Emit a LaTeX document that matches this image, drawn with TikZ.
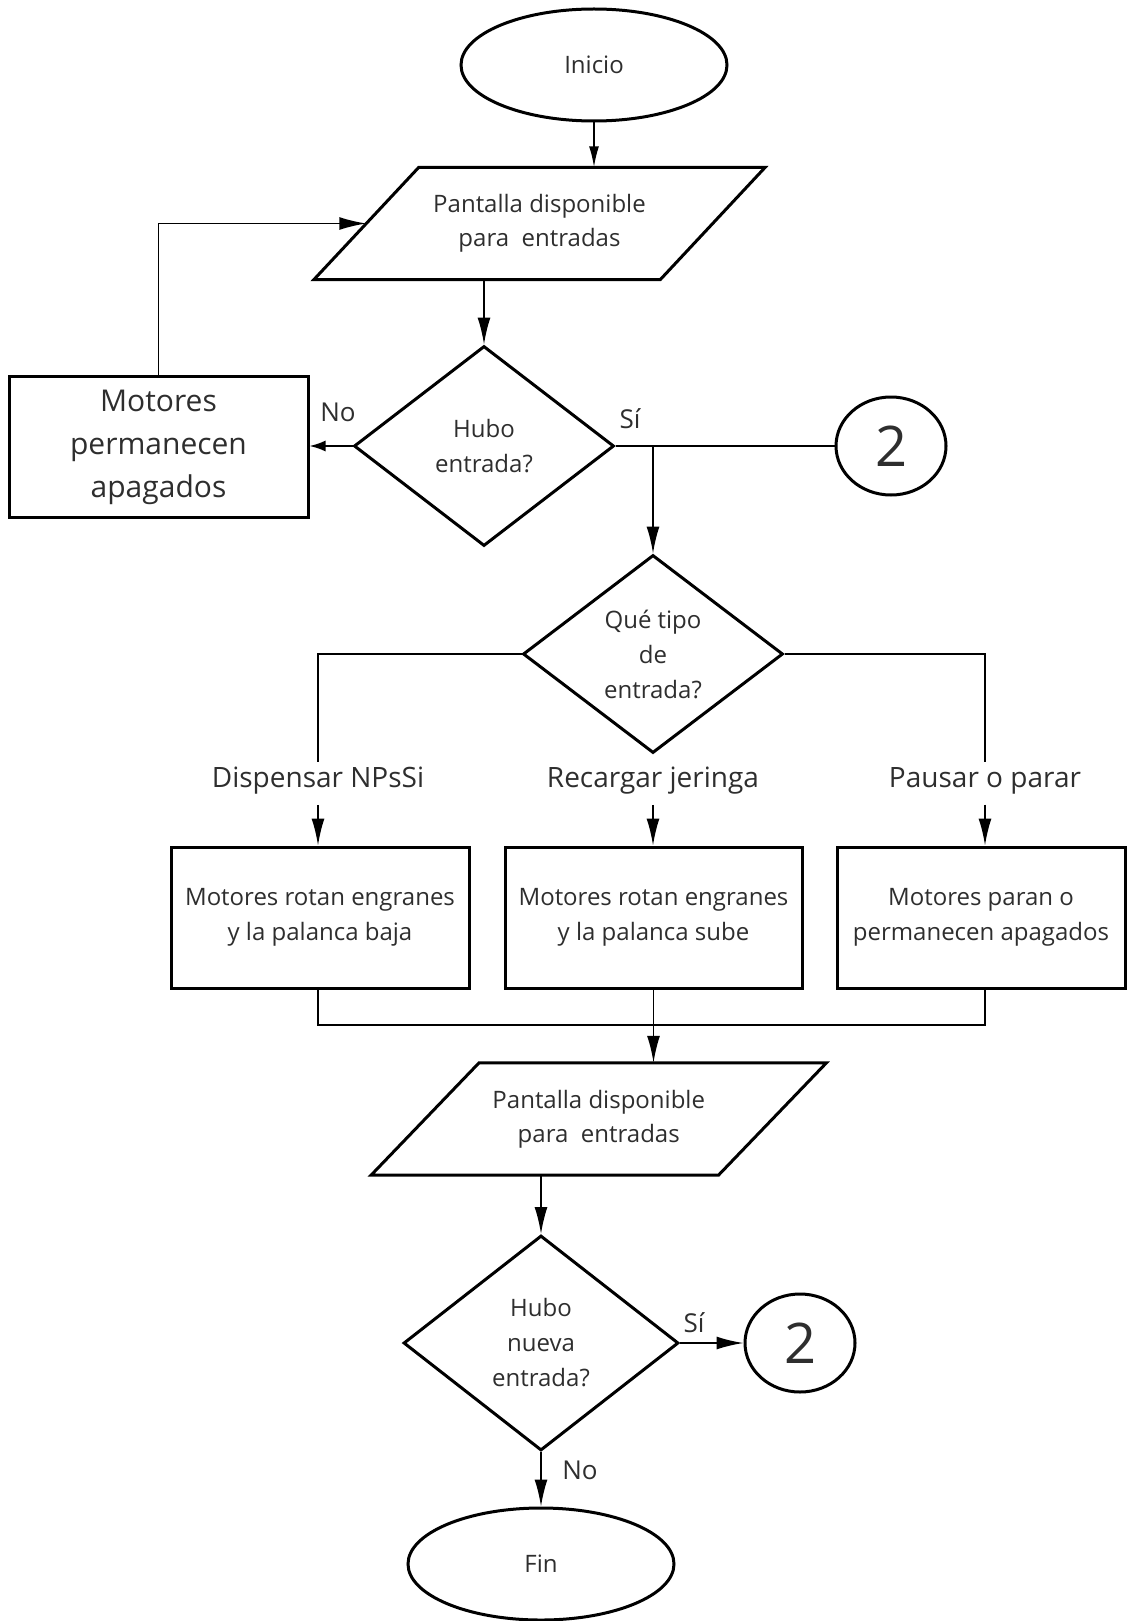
\documentclass[tikz,border=0pt]{standalone}
\usepackage{fontspec}
\setmainfont{Open Sans}
\usetikzlibrary{shapes.geometric,arrows.meta,calc}
\definecolor{txt}{HTML}{2E2E2E}
\begin{document}
\begin{tikzpicture}[x=1pt,y=-1pt,
  shp/.style={draw=black, line width=3pt, text=txt, align=center, inner sep=0pt},
  frame/.style={draw=black, line width=3pt, line join=miter},
  term/.style={shp, ellipse, minimum width=266pt, minimum height=112pt, font=\fontsize{24}{34}\selectfont},
  io/.style={text=txt, align=center, rectangle, inner sep=0pt, minimum width=346pt, minimum height=112pt, font=\fontsize{24}{34}\selectfont},
  dec/.style={shp, diamond, aspect=1.3, font=\fontsize{24}{35}\selectfont},
  proc/.style={shp, rectangle, minimum height=141pt, font=\fontsize{24}{35}\selectfont},
  conn/.style={shp, ellipse, minimum width=110pt, minimum height=98pt, font=\fontsize{56}{60}\selectfont},
  lbl/.style={text=txt, font=\fontsize{28}{34}\selectfont, inner sep=0pt},
  yn/.style={text=txt, font=\fontsize{26}{30}\selectfont, inner sep=0pt},
  ln/.style={line width=1.8pt},
  arr/.style={line width=1.8pt, -{Latex[length=27pt,width=13pt]}},
  arrs/.style={line width=1.8pt, -{Latex[length=21pt,width=10pt]}}
]
\useasboundingbox (0,0) rectangle (1127,1621);

% nodes
\node[term] (inicio) at (594,65) {Inicio};
\node[io] (p1) at (539.5,223.5) {Pantalla disponible\\para\ \ entradas};
\draw[frame] ([xshift=-52.5pt]p1.south west) -- ([xshift=-52.5pt]p1.south east) -- ([xshift=52.5pt]p1.north east) -- ([xshift=52.5pt]p1.north west) -- cycle;
\node[dec, minimum width=260pt, minimum height=200pt] (d1) at (484,446) {Hubo\\entrada?};
\node[proc, minimum width=299pt, font=\fontsize{30}{43}\selectfont] (m1) at (158.5,447) {Motores\\permanecen\\apagados};
\node[conn] (c1) at (891,446) {2};
\node[dec, minimum width=260pt, minimum height=198pt] (d2) at (653,654) {Qué tipo\\de\\entrada?};

\node[lbl] (l1) at (318,781) {Dispensar NPsSi};
\node[lbl] (l2) at (653,781) {Recargar jeringa};
\node[lbl] (l3) at (985,781) {Pausar o parar};

\node[proc, minimum width=298pt] (b1) at (320,917.5) {Motores rotan engranes\\y la palanca baja};
\node[proc, minimum width=297pt] (b2) at (653.5,917.5) {Motores rotan engranes\\y la palanca sube};
\node[proc, minimum width=288pt] (b3) at (981,917.5) {Motores paran o\\permanecen apagados};

\coordinate (mg) at (653,1025);

\node[io, minimum width=347pt] (p2) at (598.75,1119) {Pantalla disponible\\para\ \ entradas};
\draw[frame] ([xshift=-54pt]p2.south west) -- ([xshift=-54pt]p2.south east) -- ([xshift=54pt]p2.north east) -- ([xshift=54pt]p2.north west) -- cycle;
\node[dec, minimum width=275pt, minimum height=215pt] (d3) at (541,1343) {Hubo\\nueva\\entrada?};
\node[conn] (c2) at (800,1343) {2};
\node[term] (fin) at (541,1564) {Fin};

% labels
\node[yn] (no1) at (338,412) {No};
\node[yn] (si1) at (630,419) {Sí};
\node[yn] (si2) at (694,1323) {Sí};
\node[yn] (no2) at (580,1470) {No};

% connectors
\draw[arrs] (inicio.south) -- (inicio.south |- p1.north);
\draw[arr] (d1.north |- p1.south) -- (d1.north);
\draw[line width=1.8pt, -{Latex[length=16pt,width=11pt]}] (d1.west) -- (m1.east |- d1.west);
\draw[arr] (m1.north) |- (p1.west);
\draw[ln] (d1.east) -- (c1.west);
\draw[arr] (d2.north |- d1.east) -- (d2.north);

\draw[ln] (d2.west) -| ([yshift=5pt]l1.north);
\draw[ln] (d2.east) -| ([yshift=5pt]l3.north);
\draw[arr] ([yshift=-10pt]l1.south) -- (l1.south |- b1.north);
\draw[arr] ([yshift=-10pt]l2.south) -- (l2.south |- b2.north);
\draw[arr] ([yshift=-10pt]l3.south) -- (l3.south |- b3.north);

\draw[ln] (b1.south -| l1) |- (mg) -| (b3.south -| l3);
\draw[arr] (b2.south) -- (b2.south |- p2.north);
\draw[arr] (d3.north |- p2.south) -- (d3.north);
\draw[arr] (d3.east) -- (c2.west);
\draw[arr] (d3.south) -- (fin.north);
\end{tikzpicture}
\end{document}
